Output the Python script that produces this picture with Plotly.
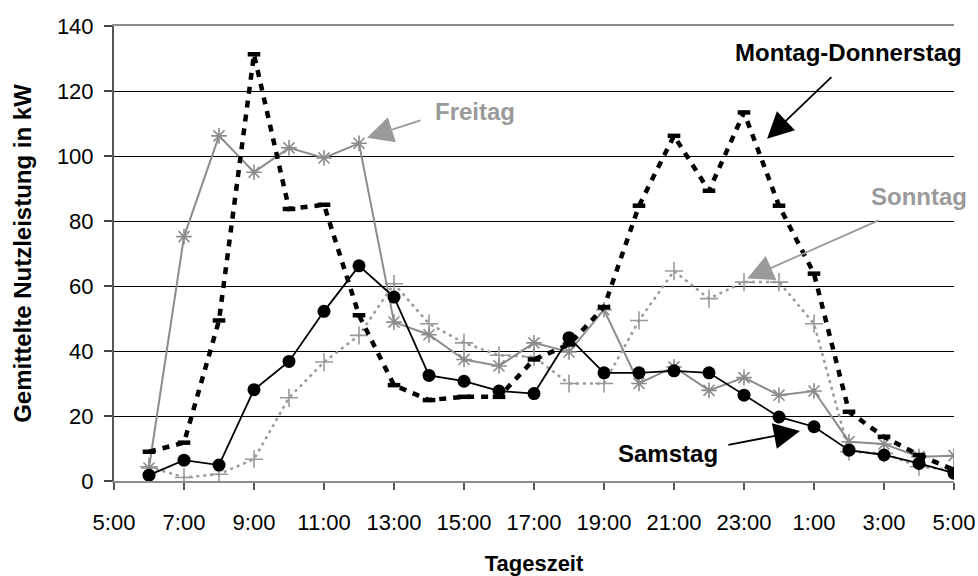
import plotly.graph_objects as go

# Uhrzeiten der Messpunkte (6:00 bis 5:00 am Folgetag)
stunden = ["6:00", "7:00", "8:00", "9:00", "10:00", "11:00", "12:00", "13:00",
           "14:00", "15:00", "16:00", "17:00", "18:00", "19:00", "20:00", "21:00",
           "22:00", "23:00", "0:00", "1:00", "2:00", "3:00", "4:00", "5:00"]

# Achsenbeschriftung der x-Achse
tick_labels = ["5:00", "7:00", "9:00", "11:00", "13:00", "15:00", "17:00",
               "19:00", "21:00", "23:00", "1:00", "3:00", "5:00"]

# Gemittelte Nutzleistung in kW je Tagestyp
montag_donnerstag = [9.0, 11.8, 49.4, 131.3, 83.7, 85.0, 51.0, 29.5, 24.9, 25.9,
                     25.9, 37.4, 42.0, 53.5, 84.7, 106.2, 89.3, 113.4, 84.7, 63.8,
                     21.3, 13.6, 8.0, 3.4]
freitag = [4.0, 75.2, 106.2, 95.0, 102.5, 99.4, 103.9, 48.9, 45.0, 37.4, 35.4,
           42.5, 39.7, 52.7, 30.0, 35.1, 27.9, 31.8, 26.4, 27.7, 12.1, 11.4, 7.5, 7.8]
samstag = [1.8, 6.4, 4.9, 28.1, 36.8, 52.2, 66.2, 56.6, 32.5, 30.7, 27.7, 26.9,
           44.1, 33.3, 33.3, 33.9, 33.3, 26.4, 19.7, 16.7, 9.5, 8.0, 5.4, 2.4]
sonntag = [4.4, 1.1, 2.1, 6.7, 25.6, 36.6, 44.8, 60.7, 48.4, 42.5, 38.7, 38.2,
           30.0, 30.0, 49.4, 64.6, 56.1, 61.2, 61.2, 48.4, 9.0, 8.5, 4.4, 3.4]

# fortlaufende Stundenachse: 5 = 5:00 morgens, 29 = 5:00 am Folgetag
x = [6 + i for i in range(len(stunden))]
tick_pos = [5 + 2 * i for i in range(len(tick_labels))]

FONT = "Liberation Sans, Arial, sans-serif"
GRAU = "#8c8c8c"
GRAU_HELL = "#9a9a9a"

fig = go.Figure()

fig.add_trace(go.Scatter(
    x=x, y=sonntag, name="Sonntag", mode="lines+markers",
    line=dict(color=GRAU_HELL, width=2.5, dash="3px,4px"),
    marker=dict(symbol="cross-thin-open", size=13,
                line=dict(color=GRAU_HELL, width=1.6)),
    customdata=stunden,
))
fig.add_trace(go.Scatter(
    x=x, y=freitag, name="Freitag", mode="lines+markers",
    line=dict(color=GRAU, width=2),
    marker=dict(symbol="asterisk-open", size=13,
                line=dict(color=GRAU, width=1.6)),
    customdata=stunden,
))
fig.add_trace(go.Scatter(
    x=x, y=montag_donnerstag, name="Montag-Donnerstag", mode="lines+markers",
    line=dict(color="black", width=4.5, dash="7px,7px"),
    marker=dict(symbol="line-ew-open", size=9,
                line=dict(color="black", width=4.5)),
    customdata=stunden,
))
fig.add_trace(go.Scatter(
    x=x, y=samstag, name="Samstag", mode="lines+markers",
    line=dict(color="black", width=1.8),
    marker=dict(symbol="circle", size=13, color="black"),
    customdata=stunden,
))

# Beschriftungen der Kurven
labels = [
    dict(text="Montag-Donnerstag", x=25.99, y=132.0, color="black"),
    dict(text="Freitag", x=15.31, y=113.6, color=GRAU_HELL),
    dict(text="Sonntag", x=28.0, y=87.5, color=GRAU_HELL),
    dict(text="Samstag", x=20.83, y=8.6, color="black"),
]
annotations = [
    dict(text="<b>%s</b>" % l["text"], x=l["x"], y=l["y"], xref="x", yref="y",
         showarrow=False, font=dict(family=FONT, size=24, color=l["color"]),
         xanchor="center", yanchor="middle")
    for l in labels
]

# Pfeile von den Beschriftungen zu den Kurven
arrows = [
    dict(tail=(25.54, 124.7), head=(23.66, 105.3), color="black"),
    dict(tail=(13.80, 111.1), head=(12.23, 105.6), color=GRAU_HELL),
    dict(tail=(26.89, 80.4), head=(23.09, 62.3), color=GRAU_HELL),
    dict(tail=(22.51, 11.05), head=(24.60, 15.35), color="black"),
]
for a in arrows:
    annotations.append(dict(
        text="", x=a["head"][0], y=a["head"][1], ax=a["tail"][0], ay=a["tail"][1],
        xref="x", yref="y", axref="x", ayref="y",
        showarrow=True, arrowhead=2, arrowsize=2.9, arrowwidth=1.8,
        arrowcolor=a["color"], standoff=0, startstandoff=0,
    ))

fig.update_layout(
    width=978, height=576,
    margin=dict(l=114, r=24, t=26, b=95),
    paper_bgcolor="white", plot_bgcolor="white",
    showlegend=False,
    font=dict(family=FONT, size=21, color="black"),
    annotations=annotations,
)

fig.update_xaxes(
    range=[5, 29], tickmode="array", tickvals=tick_pos, ticktext=tick_labels,
    showgrid=False, zeroline=False, automargin=False,
    showline=True, linecolor="#8c8c8c", linewidth=2, mirror=True,
    ticks="outside", ticklen=7, tickcolor="#555555", tickwidth=1.5,
    ticklabelstandoff=14,
    tickfont=dict(family=FONT, size=22, color="black"),
    title=dict(text="<b>Tageszeit</b>", font=dict(family=FONT, size=22), standoff=30),
)
fig.update_yaxes(
    range=[0, 140], tickmode="linear", tick0=0, dtick=20,
    showgrid=True, gridcolor="black", gridwidth=1, zeroline=False, automargin=False,
    showline=True, linecolor="#555555", linewidth=2,
    ticks="outside", ticklen=8, tickcolor="#444444", tickwidth=1.5,
    ticklabelstandoff=6,
    tickfont=dict(family=FONT, size=22, color="black"),
    title=dict(text="<b>Gemittelte Nutzleistung in kW</b>",
               font=dict(family=FONT, size=24), standoff=18),
)

fig.write_html("out.html")
